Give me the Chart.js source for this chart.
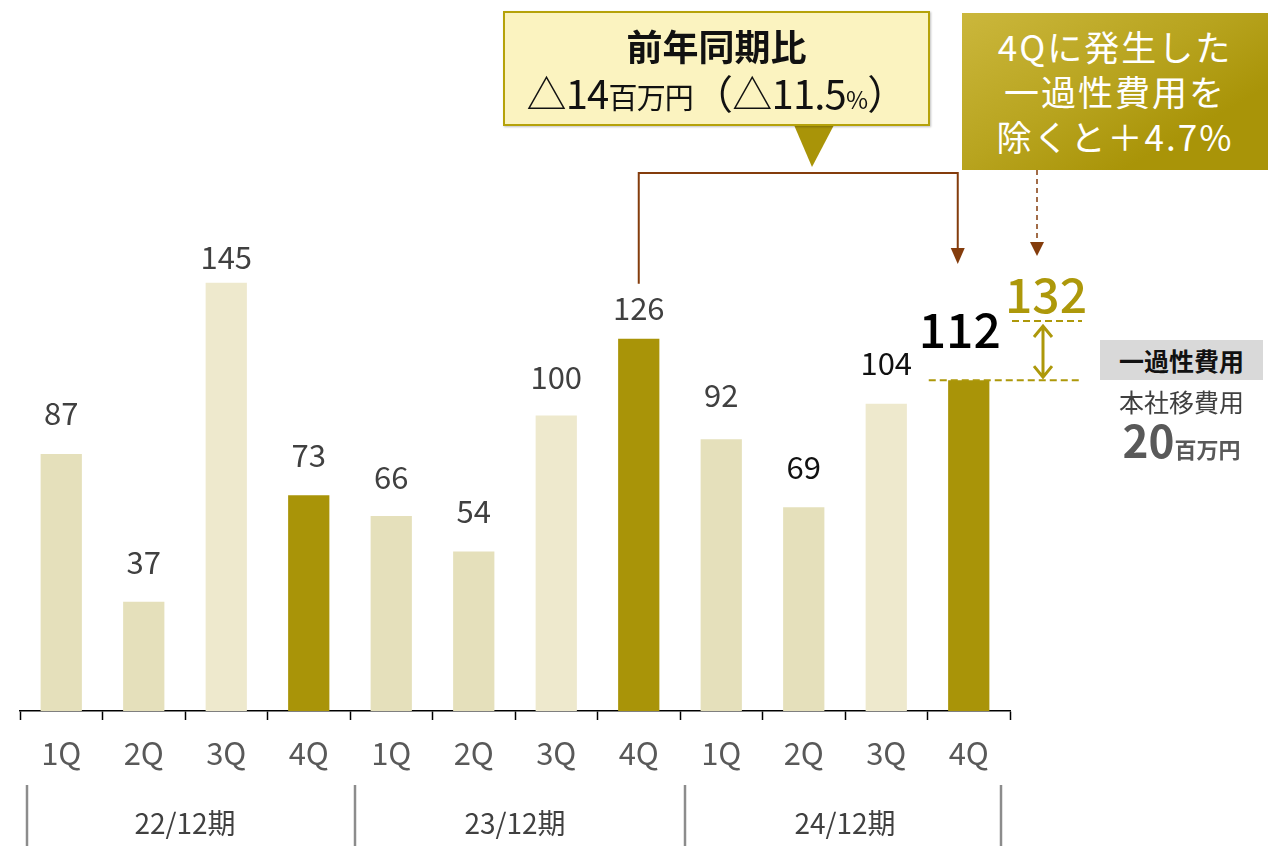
<!DOCTYPE html>
<html>
<head>
<meta charset="utf-8">
<script src="https://cdn.jsdelivr.net/npm/chart.js@4/dist/chart.umd.min.js"></script>
<style>
  html, body { margin: 0; padding: 0; background: #fff; }
  #wrap { position: relative; width: 1268px; height: 846px; overflow: hidden;
          font-family: "Noto Sans CJK JP", "Noto Sans", sans-serif; }
  #wrap canvas { position: absolute; left: 0; top: 0; }
  .box { position: absolute; text-align: center; box-sizing: border-box; white-space: nowrap; }
  #yoy { left: 503px; top: 11px; width: 427px; height: 115px; background: #fbf3c0;
         border: 2.5px solid #b5a20a; box-shadow: 1px 1px 2px rgba(0,0,0,0.25); color: #111; }
  #yoy .t1 { font-size: 36px; font-weight: bold; line-height: 44px; margin-top: 10px; }
  #yoy .t2 { font-size: 40px; line-height: 50px; letter-spacing: -0.8px; }
  #yoy .s { font-size: 29px; }
  #yoy .p { font-size: 24px; }
  #excl { left: 962px; top: 13px; width: 306px; height: 157px; color: #fff;
          background: linear-gradient(150deg, #cbb73c 0%, #b8a41f 45%, #a99408 75%);
          font-size: 35px; line-height: 45px; padding-top: 10px; letter-spacing: 2px; }
  #adj { left: 1000px; top: 262px; width: 92px; font-size: 48px; font-weight: 500;
         color: #ad980a; line-height: 60px; }
  #tag { left: 1100px; top: 340px; width: 163px; height: 40px; background: #d9d9d9;
         font-size: 25px; font-weight: bold; line-height: 40px; color: #111; }
  #tagsub { left: 1100px; top: 383px; width: 163px; font-size: 25px; line-height: 36px; color: #404040; }
  #tagsub .n { font-size: 44px; font-weight: bold; color: #595959; line-height: 40px; }
  #tagsub .u { font-size: 22px; font-weight: bold; color: #595959; }
</style>
</head>
<body>
<div id="wrap">
  <canvas id="quarterChart" width="1268" height="846"></canvas>
  <div class="box" id="yoy">
    <div class="t1">前年同期比</div>
    <div class="t2">△14<span class="s">百万円</span>（△11.5<span class="p">%</span>）</div>
  </div>
  <div class="box" id="excl">4Qに発生した<br>一過性費用を<br>除くと＋4.7%</div>
  <div class="box" id="adj">132</div>
  <div class="box" id="tag">一過性費用</div>
  <div class="box" id="tagsub">本社移費用<br><span class="n">20</span><span class="u">百万円</span></div>
</div>
<script>
// quarters, periods and values
var quarters = ['1Q', '2Q', '3Q', '4Q', '1Q', '2Q', '3Q', '4Q', '1Q', '2Q', '3Q', '4Q'];
var periods = ['22/12期', '23/12期', '24/12期'];
var profit = [87, 37, 145, 73, 66, 54, 100, 126, 92, 69, 104, 112];
var adjusted = 132;   // 4Q 24/12 without one-off cost

var FONT = '"Noto Sans CJK JP", "Noto Sans", sans-serif';
var barColors = ["#e5e0bb", "#e5e0bb", "#eee9cd", "#a99408"];
var labelColors = ['#404040', '#404040', '#404040', '#404040', '#404040', '#404040',
                   '#404040', '#404040', '#404040', '#111111', '#111111', '#000000'];
// gap between bar top and its label (px)
var labelGap = [41, 39, 25, 40, 39, 40, 38, 31, 44, 40, 41, 50];

// value labels, period labels and connectors
var extras = {
  id: 'extras',
  afterDatasetsDraw: function(chart) {
    var ctx = chart.ctx;
    var x = chart.scales.x, y = chart.scales.y;
    var meta = chart.getDatasetMeta(0);
    ctx.save();
    ctx.textAlign = 'center';
    ctx.textBaseline = 'middle';
    meta.data.forEach(function(bar, i) {
      ctx.fillStyle = labelColors[i];
      if (i === profit.length - 1) {
        ctx.font = '500 48px ' + FONT;
        ctx.fillText(String(profit[i]), bar.x - 9, bar.y - labelGap[i]);
      } else {
        ctx.font = '31px ' + FONT;
        ctx.fillText(String(profit[i]), bar.x, bar.y - labelGap[i]);
      }
    });

    // period labels and separators
    var half = (x.getPixelForValue(1) - x.getPixelForValue(0)) / 2;
    ctx.font = '28px ' + FONT;
    ctx.fillStyle = '#404040';
    periods.forEach(function(p, k) {
      var l = x.getPixelForValue(k * 4) - half;
      var r = x.getPixelForValue(k * 4 + 3) + half;
      ctx.fillText(p, (l + r) / 2, 823);
    });
    ctx.strokeStyle = '#8c8c8c';
    ctx.lineWidth = 2.5;
    for (var k = 0; k <= periods.length; k++) {
      var bx = x.getPixelForValue(k * 4) - half;
      if (k === 0) bx += 7;
      else if (k === periods.length) bx -= 9;
      else bx += 5;
      ctx.beginPath();
      ctx.moveTo(bx, 785);
      ctx.lineTo(bx, 846);
      ctx.stroke();
    }

    // year-on-year bracket
    var last = meta.data[profit.length - 1];
    var prev = meta.data[7];
    var topY = 173;
    ctx.strokeStyle = '#843c0c';
    ctx.fillStyle = '#843c0c';
    ctx.lineWidth = 2;
    ctx.beginPath();
    ctx.moveTo(prev.x, prev.y - 55);
    ctx.lineTo(prev.x, topY);
    ctx.lineTo(last.x - 11, topY);
    ctx.lineTo(last.x - 11, 250);
    ctx.stroke();
    ctx.beginPath();
    ctx.moveTo(last.x - 18, 248);
    ctx.lineTo(last.x - 4, 248);
    ctx.lineTo(last.x - 11, 264);
    ctx.closePath();
    ctx.fill();

    // dashed arrow from the right box
    ctx.setLineDash([5, 4]);
    ctx.lineWidth = 1.5;
    ctx.beginPath();
    ctx.moveTo(1037, 170);
    ctx.lineTo(1037, 243);
    ctx.stroke();
    ctx.setLineDash([]);
    ctx.beginPath();
    ctx.moveTo(1030, 242);
    ctx.lineTo(1044, 242);
    ctx.lineTo(1037, 256);
    ctx.closePath();
    ctx.fill();

    // callout pointer
    ctx.fillStyle = '#a99408';
    ctx.beginPath();
    ctx.moveTo(794, 125);
    ctx.lineTo(834, 125);
    ctx.lineTo(812, 167);
    ctx.closePath();
    ctx.fill();

    // one-off cost gap
    var yA = y.getPixelForValue(adjusted);
    var yB = y.getPixelForValue(profit[profit.length - 1]);
    ctx.strokeStyle = '#ad980a';
    ctx.lineWidth = 2;
    ctx.setLineDash([7, 4]);
    ctx.beginPath();
    ctx.moveTo(1012, yA); ctx.lineTo(1082, yA);
    ctx.moveTo(last.x - 40, yB); ctx.lineTo(1082, yB);
    ctx.stroke();
    ctx.setLineDash([]);
    ctx.lineWidth = 3;
    ctx.beginPath();
    ctx.moveTo(1043, yA + 5); ctx.lineTo(1043, yB - 3);
    ctx.moveTo(1034, yA + 16); ctx.lineTo(1043, yA + 5); ctx.lineTo(1052, yA + 16);
    ctx.moveTo(1034, yB - 14); ctx.lineTo(1043, yB - 3); ctx.lineTo(1052, yB - 14);
    ctx.stroke();
    ctx.restore();
  }
};

var canvas = document.getElementById('quarterChart');
var quarterChart = new Chart(canvas, {
  type: 'bar',
  data: {
    labels: quarters,
    datasets: [{
      data: profit,
      backgroundColor: quarters.map(function(q, i) { return barColors[i % 4]; }),
      barPercentage: 0.5,
      categoryPercentage: 1.0
    }]
  },
  options: {
    responsive: false,
    animation: false,
    layout: { padding: { left: 20, right: 258, top: 2, bottom: 0 } },
    plugins: { legend: { display: false }, tooltip: { enabled: false } },
    scales: {
      y: { display: false, min: 0, max: 240 },
      x: {
        afterFit: function(scale) { scale.height = 135; },
        border: { display: true, color: '#000', width: 1.5 },
        grid: { display: true, offset: true, drawOnChartArea: false, drawTicks: true,
                tickLength: 9, tickColor: '#000', tickWidth: 1.5 },
        ticks: { color: '#595959', font: { family: FONT, size: 31 }, padding: 15 }
      }
    }
  },
  plugins: [extras]
});
</script>
</body>
</html>
